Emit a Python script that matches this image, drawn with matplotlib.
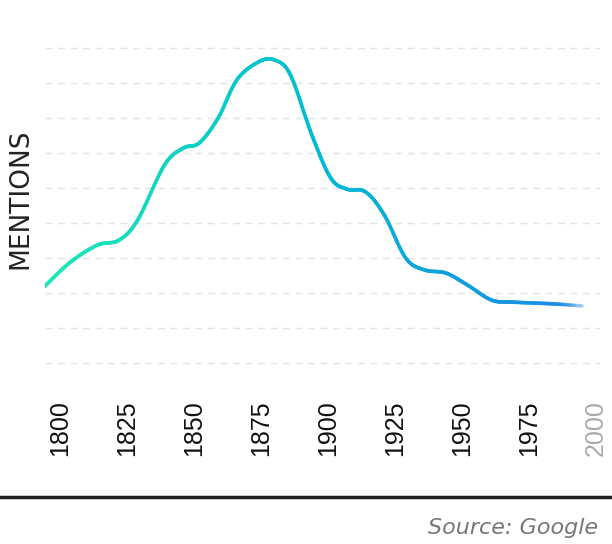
import numpy as np
import matplotlib
matplotlib.use("Agg")
import matplotlib.pyplot as plt
from matplotlib.collections import LineCollection
from matplotlib.colors import LinearSegmentedColormap

years = [1794,1804,1814,1822,1829,1839,1846,1852,1859,1866,1874,1880,1886,1894,1901,1907,1914,1921,1929,1936,1944,1952,1961,1969,1984,1995]
mentions = [2.17,2.89,3.37,3.51,4.09,5.66,6.14,6.29,7.0,8.09,8.6,8.66,8.23,6.51,5.29,4.97,4.89,4.23,3.0,2.66,2.57,2.23,1.8,1.74,1.69,1.63]
tick_years = [1800,1825,1850,1875,1900,1925,1950,1975,2000]

x = np.array(years, float); y = np.array(mentions, float)
xs, ys = [], []
P = np.column_stack([x, y])
P = np.vstack([P[0], P, P[-1]])
for i in range(1, len(P)-2):
    p0, p1, p2, p3 = P[i-1], P[i], P[i+1], P[i+2]
    for t in np.linspace(0, 1, 20, endpoint=False):
        pt = 0.5*((2*p1) + (-p0+p2)*t + (2*p0-5*p1+4*p2-p3)*t**2 + (-p0+3*p1-3*p2+p3)*t**3)
        xs.append(pt[0]); ys.append(pt[1])
xs.append(x[-1]); ys.append(y[-1])
xs = np.array(xs); ys = np.array(ys)

fig = plt.figure(figsize=(6.12, 5.44), dpi=100)
ax = fig.add_axes([45/612, 1-370/544, 555/612, 330/544])
ax.set_xlim(1794.4, 2001.5)
ax.set_ylim(-0.2, 9.23)
for g in range(10):
    ax.axhline(g, color="#e4e4e8", lw=1, ls=(0, (5, 4)), zorder=0)

cmap = LinearSegmentedColormap.from_list("g", ["#1de9b6", "#00bcd4", "#1e88e5"])
pts = np.column_stack([xs, ys]).reshape(-1, 1, 2)
segs = np.concatenate([pts[:-1], pts[1:]], axis=1)
tnorm = (xs[:-1] - x[0]) / (x[-1] - x[0])
cols = cmap(tnorm)
cols[:, 3] = np.clip((x[-1] - xs[:-1]) / 12, 0.15, 1)
lc = LineCollection(segs, colors=cols, linewidths=2.6, capstyle="round")
ax.add_collection(lc)

for s in ax.spines.values():
    s.set_visible(False)
ax.set_yticks([])
ax.set_xticks(tick_years)
ax.set_xticklabels([str(t) for t in tick_years], rotation=90, fontsize=18, fontfamily="Liberation Sans", color="#111111")
ax.tick_params(axis="x", length=0, pad=22)
ax.get_xticklabels()[-1].set_color("#aaaaaa")

fig.text(20/612, 1-199/544, "MENTIONS", rotation=90, ha="center", va="center", fontsize=19, fontfamily="DejaVu Sans", color="#222222")
fig.add_artist(plt.Line2D([0, 1], [1-497/544]*2, color="#222222", lw=2.5))
fig.text(598/612, 1-528/544, "Source: Google", ha="right", va="center", fontsize=16, style="italic", color="#777777", fontfamily="DejaVu Sans")
fig.savefig("out.png")
